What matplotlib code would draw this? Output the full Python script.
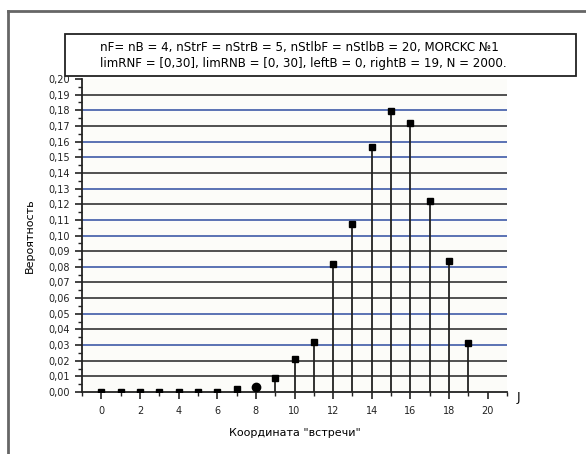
import matplotlib.pyplot as plt
from matplotlib.lines import Line2D
from matplotlib.patches import Rectangle

# data
coord = list(range(0, 20))
prob = [0.0, 0.0, 0.0, 0.0, 0.0, 0.0, 0.0, 0.0019, 0.0034, 0.0088,
        0.0209, 0.0318, 0.0817, 0.1073, 0.1563, 0.1795, 0.1717, 0.1218, 0.0838, 0.0311]
xticks = [0, 2, 4, 6, 8, 10, 12, 14, 16, 18, 20]
yticks = [i / 100 for i in range(0, 21)]
ytick_labels = [("%.2f" % v).replace(".", ",") for v in yticks]
grid_colors = ["d", "d", "b", "d", "b", "d", "d", "b", "d", "b",
               "b", "d", "b", "d", "b", "b", "d", "b", "d"]   # 0.01 .. 0.19
info = ("nF= nB = 4, nStrF = nStrB = 5, nStlbF = nStlbB = 20, MORCKC №1\n"
        "limRNF = [0,30], limRNB = [0, 30], leftB = 0, rightB = 19, N = 2000.")

W, H = 586, 454
fig = plt.figure(figsize=(W / 100, H / 100), dpi=100)
ax = fig.add_axes([82 / W, 1 - 392 / H, (507 - 82) / W, (392 - 79) / H])
ax.set_facecolor("#fcfcf9")

# horizontal grid lines, alternating colours as in the original
for v, c in zip(yticks[1:20], grid_colors):
    ax.axhline(v, color="#3f5aa8" if c == "b" else "#333333", lw=1.2, zorder=1)

# stems
ax.vlines(coord, 0, prob, color="#222222", lw=1.3, zorder=2)
sq = [i for i in coord if i != 8]
ax.plot([coord[i] for i in sq], [prob[i] for i in sq], "s", color="black",
        ms=5, zorder=3, clip_on=True)
ax.plot([coord[8]], [prob[8]], "o", color="black", ms=6, zorder=3)

ax.set_xlim(-1, 21)
ax.set_ylim(0, 0.20)
ax.set_xticks(xticks)
ax.set_xticks(range(-1, 22), minor=True)
ax.set_yticks(yticks)
ax.set_yticklabels(ytick_labels)
ax.set_yticks([i / 1000 for i in range(5, 200, 10)], minor=True)
ax.tick_params(axis="both", which="major", labelsize=7, colors="#222222",
               length=5, width=1.2)
ax.tick_params(axis="both", which="minor", length=3, width=1, colors="#222222")
ax.tick_params(axis="x", pad=5)
for s in ["top", "right"]:
    ax.spines[s].set_visible(False)
for s in ["left", "bottom"]:
    ax.spines[s].set_linewidth(1.3)
    ax.spines[s].set_color("#222222")

ax.set_ylabel("Вероятность", fontsize=8, labelpad=10)
ax.set_xlabel("Координата \"встречи\"", fontsize=8, labelpad=9)
fig.text(518 / W, 1 - 397 / H, "J", fontsize=9, ha="center", va="center")

# info box
fig.add_artist(Rectangle((65 / W, 1 - 76 / H), (576 - 65) / W, (76 - 34) / H,
                         transform=fig.transFigure, fill=True, facecolor="white",
                         edgecolor="#222222", lw=1.3, zorder=5))
fig.text(100 / W, 1 - 55.5 / H, info, fontsize=8.6, ha="left", va="center",
         linespacing=1.35, zorder=6)

# outer frame
fig.add_artist(Line2D([8 / W, 8 / W], [0, 1 - 11 / H], color="#666666", lw=2))
fig.add_artist(Line2D([8 / W, 1], [1 - 11 / H, 1 - 11 / H], color="#666666", lw=2))

fig.savefig("out.png", dpi=100)
